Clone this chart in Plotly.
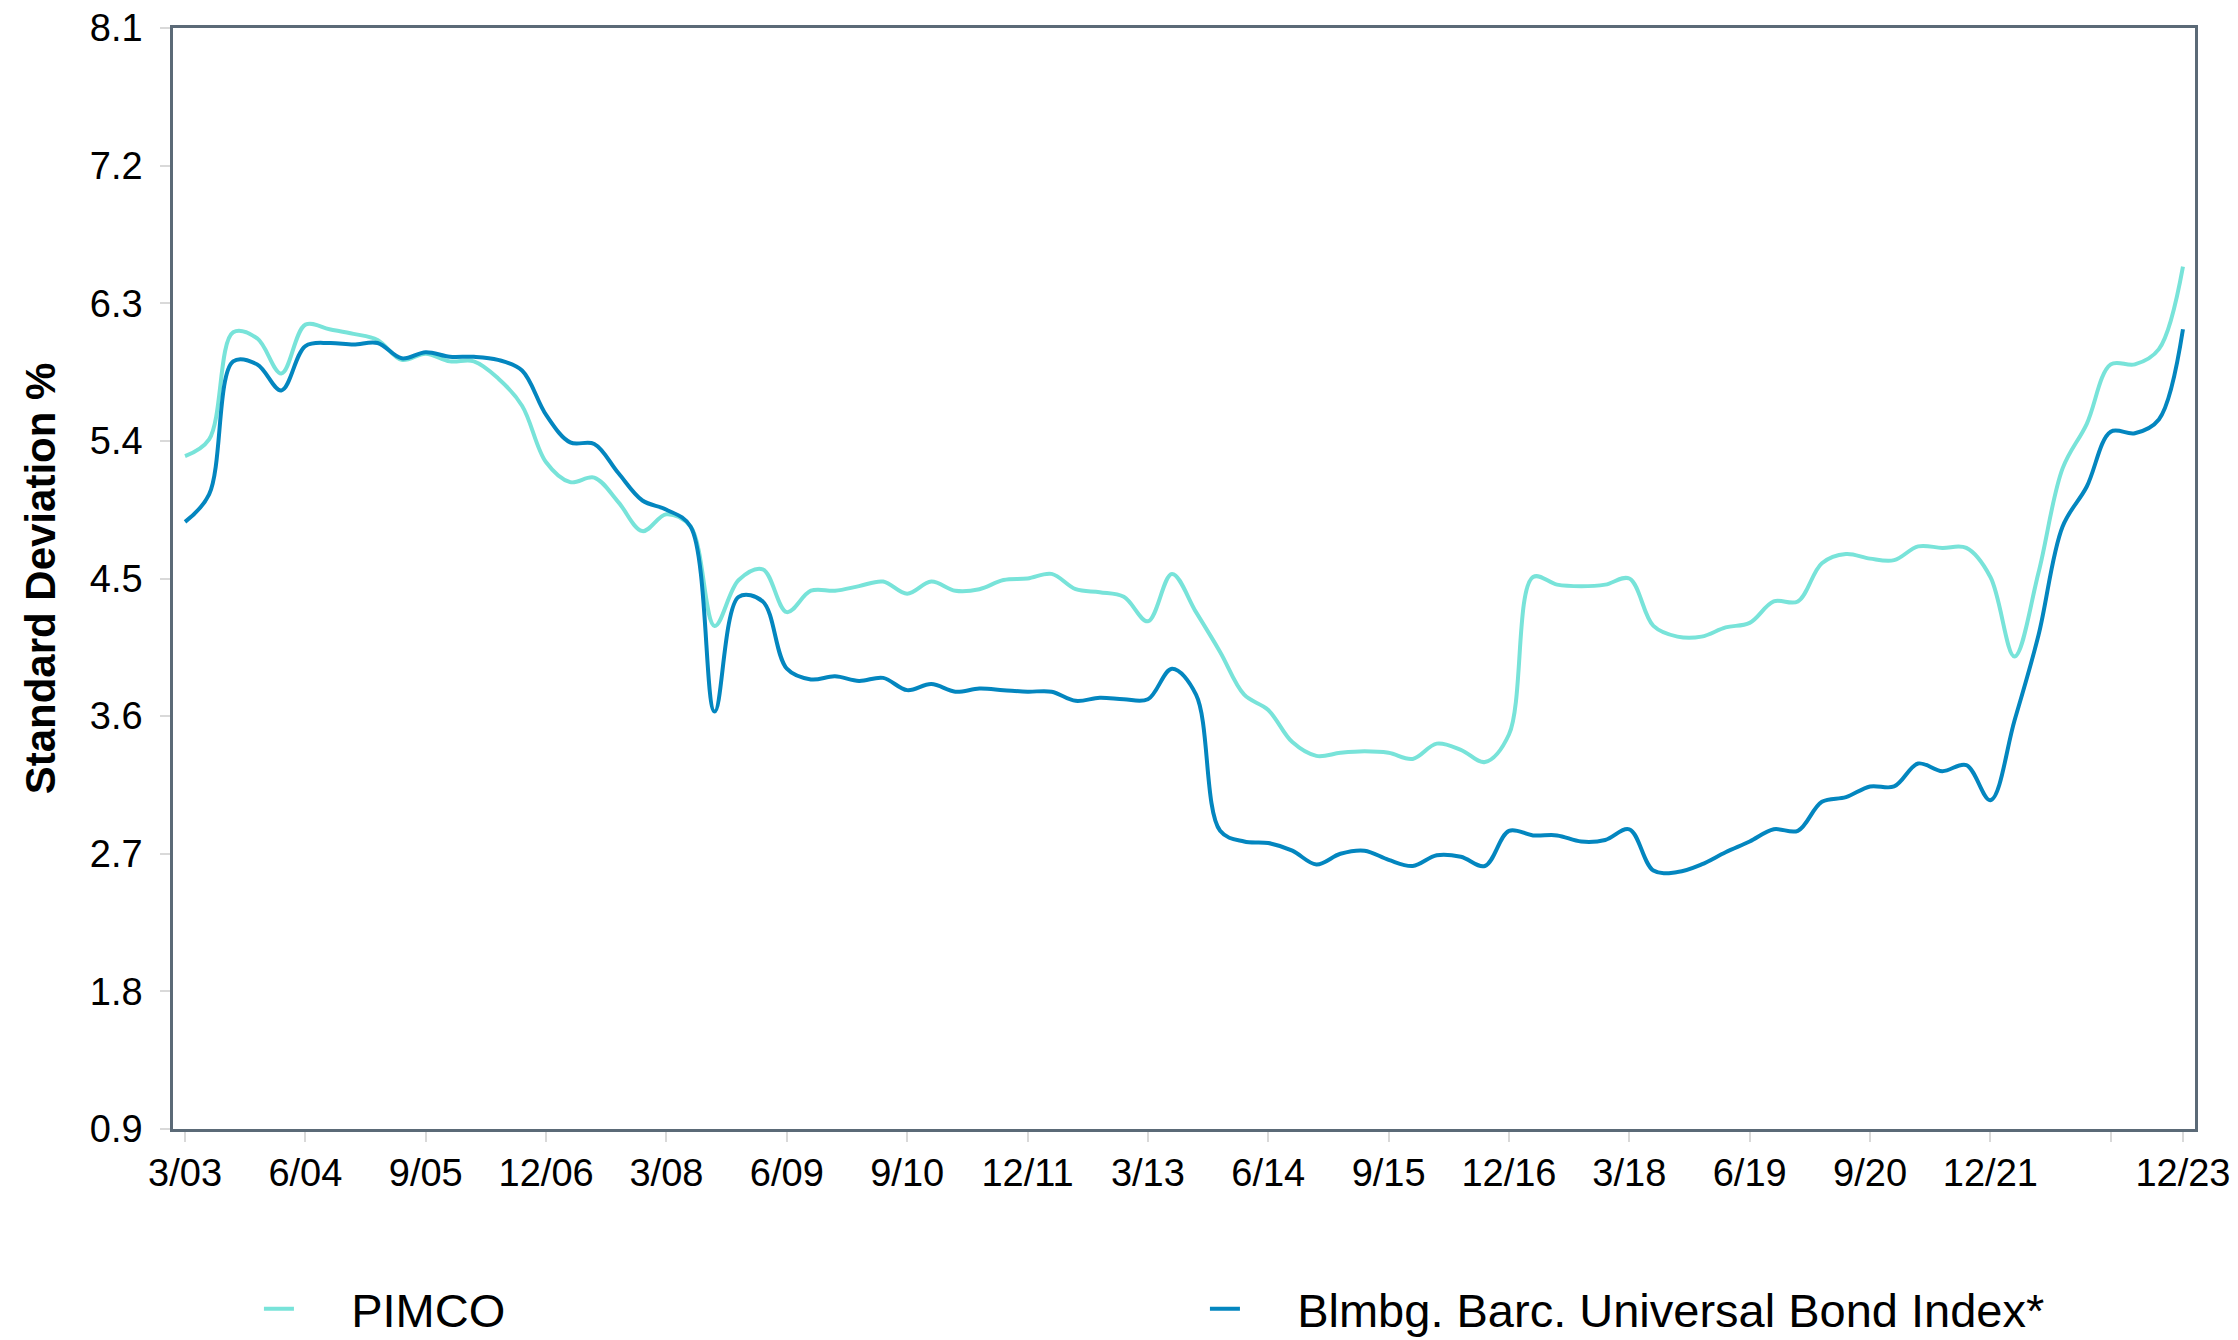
import plotly.graph_objects as go

# Quarter-end labels from 3/03 to 12/23
quarters = []
for yr in range(2003, 2024):
    for m in (3, 6, 9, 12):
        quarters.append(f"{m}/{str(yr)[2:]}")

pimco = [5.30, 5.41, 6.11, 6.07, 5.84, 6.16, 6.13, 6.10, 6.06, 5.93,
         5.97, 5.92, 5.92, 5.81, 5.63, 5.26, 5.13, 5.16, 5.00, 4.81,
         4.92, 4.84, 4.19, 4.49, 4.56, 4.28, 4.42, 4.42, 4.45, 4.48,
         4.40, 4.48, 4.42, 4.43, 4.49, 4.50, 4.53, 4.43, 4.41, 4.38,
         4.22, 4.53, 4.28, 4.02, 3.74, 3.64, 3.43, 3.34, 3.36, 3.37,
         3.36, 3.32, 3.42, 3.38, 3.30, 3.48, 4.51, 4.46, 4.45, 4.46,
         4.50, 4.19, 4.12, 4.12, 4.18, 4.21, 4.35, 4.35, 4.60, 4.66,
         4.63, 4.62, 4.71, 4.70, 4.70, 4.51, 3.99, 4.54, 5.22, 5.51,
         5.90, 5.90, 6.00, 6.54]

index = [4.87, 5.05, 5.92, 5.90, 5.73, 6.02, 6.04, 6.03, 6.04, 5.94,
         5.98, 5.95, 5.95, 5.93, 5.86, 5.57, 5.39, 5.38, 5.19, 5.01,
         4.95, 4.84, 3.63, 4.38, 4.35, 3.91, 3.84, 3.86, 3.83, 3.85,
         3.77, 3.81, 3.76, 3.78, 3.77, 3.76, 3.76, 3.70, 3.72, 3.71,
         3.71, 3.91, 3.74, 2.85, 2.78, 2.77, 2.72, 2.63, 2.70, 2.72,
         2.66, 2.62, 2.69, 2.68, 2.62, 2.85, 2.82, 2.82, 2.78, 2.79,
         2.86, 2.59, 2.58, 2.63, 2.71, 2.78, 2.86, 2.85, 3.04, 3.07,
         3.14, 3.14, 3.29, 3.24, 3.28, 3.05, 3.57, 4.13, 4.84, 5.10,
         5.46, 5.45, 5.54, 6.13]

y_ticks = [0.9, 1.8, 2.7, 3.6, 4.5, 5.4, 6.3, 7.2, 8.1]
x_tick_vals = quarters[::5] + [quarters[-1]]
x_tick_text = [q if q != "3/23" else "" for q in x_tick_vals]

series_names = ["PIMCO", "Blmbg. Barc. Universal Bond Index*"]
series_colors = ["#78E3D9", "#0386BF"]

FONT = "Liberation Sans, Arial, Helvetica, sans-serif"
GAP = "\u00a0" * 4  # space between legend line and its label

fig = go.Figure()
for name, vals, col in zip(series_names, [pimco, index], series_colors):
    fig.add_trace(go.Scatter(
        x=quarters, y=vals, name=GAP + name, mode="lines",
        line=dict(color=col, width=4, shape="spline", smoothing=1.0),
    ))

axis_line = "#5B6A77"
fig.update_layout(
    width=2230, height=1332,
    paper_bgcolor="white", plot_bgcolor="white",
    margin=dict(l=165, r=43, t=20, b=211, autoexpand=False),
    font=dict(family=FONT, color="#000000"),
    showlegend=True,
    legend=dict(
        orientation="h", x=0.0425, xanchor="left", y=-0.1636, yanchor="middle",
        font=dict(size=47, family=FONT, color="#000000"),
        itemwidth=30, entrywidth=901, entrywidthmode="pixels",
        bgcolor="rgba(0,0,0,0)", borderwidth=0,
    ),
    xaxis=dict(
        type="category", categoryorder="array", categoryarray=quarters,
        range=[-0.5, len(quarters) - 0.5],
        tickmode="array", tickvals=x_tick_vals, ticktext=x_tick_text,
        ticks="outside", ticklen=10, tickwidth=2, tickcolor="#D9D9D9",
        tickfont=dict(size=38, family=FONT, color="#000000"),
        showline=True, linecolor=axis_line, linewidth=2.5, mirror=True,
        showgrid=False, zeroline=False, ticklabelstandoff=-1,
        ticklabeloverflow="allow",
    ),
    yaxis=dict(
        range=[0.9, 8.1], tickmode="array", tickvals=y_ticks,
        ticktext=[f"{v:.1f}" for v in y_ticks],
        ticks="outside", ticklen=10, tickwidth=2, tickcolor="#D9D9D9",
        tickfont=dict(size=38, family=FONT, color="#000000"),
        showline=True, linecolor=axis_line, linewidth=2.5, mirror=True,
        showgrid=False, zeroline=False, ticklabelstandoff=10,
        ticklabeloverflow="allow",
        title=dict(text="<b>Standard Deviation %</b>", standoff=22,
                   font=dict(size=42, family=FONT, color="#000000")),
    ),
)

fig.write_html("out.html")
